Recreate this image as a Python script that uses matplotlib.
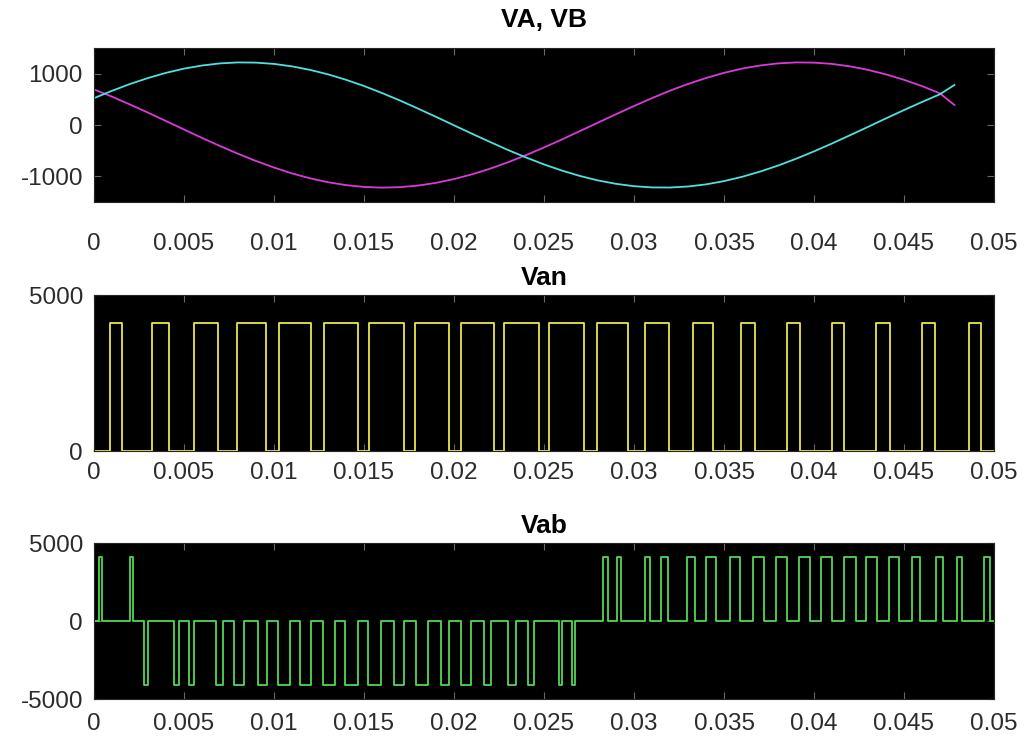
import numpy as np
import matplotlib
matplotlib.use("Agg")
import matplotlib.pyplot as plt

plt.rcParams["font.family"] = ["Liberation Sans", "DejaVu Sans"]

# ---- phase voltages VA, VB (time in ms, volts) ----
t_ms = [0, 1, 2, 3, 4, 5, 6, 7, 8, 9, 10, 11, 12, 13, 14, 15, 16, 17, 18, 19,
        20, 21, 22, 23, 24, 25, 26, 27, 28, 29, 30, 31, 32, 33, 34, 35, 36, 37,
        38, 39, 40, 41, 42, 43, 44, 45, 46, 47, 47.8]
va = [693, 552, 399, 241, 77, -87, -252, -409, -560, -701, -829, -943, -1038,
      -1115, -1171, -1207, -1220, -1211, -1180, -1127, -1053, -961, -852, -726,
      -588, -437, -281, -117, 46, 210, 370, 523, 669, 799, 915, 1016, 1098,
      1159, 1200, 1219, 1215, 1190, 1142, 1074, 986, 880, 758, 615, 390]
vb = [523, 666, 799, 915, 1016, 1098, 1159, 1200, 1219, 1215, 1190, 1142, 1074,
      987, 881, 760, 623, 477, 320, 159, -6, -170, -330, -487, -632, -768, -888,
      -993, -1080, -1146, -1192, -1216, -1218, -1198, -1157, -1093, -1010, -908,
      -791, -658, -514, -360, -199, -37, 129, 291, 448, 600, 780]

# ---- leg voltage Van: pulse edges (ms) and pulse level (V) ----
van_rise = [0.88, 3.24, 5.55, 7.93, 10.28, 12.78, 15.28, 17.83, 20.38, 22.79,
            25.29, 27.95, 30.62, 33.27, 35.96, 38.52, 41.00, 43.46, 45.98, 48.62]
van_fall = [1.57, 4.16, 6.89, 9.54, 12.08, 14.67, 17.23, 19.70, 22.24, 24.74,
            27.24, 29.66, 31.97, 34.38, 36.70, 39.20, 41.67, 44.21, 46.71, 49.27]
van_level = 4100

# ---- line voltage Vab: pulse edges (ms), polarity, level (V) ----
vab_start = [0.25, 1.99, 2.79, 4.46, 5.29, 6.77, 7.80, 9.11, 10.22, 11.43,
             12.73, 13.93, 15.23, 16.67, 17.88, 19.27, 20.38, 21.68, 23.00,
             24.11, 25.84, 26.54, 28.30, 29.08, 30.62, 31.51, 32.96, 34.01,
             35.31, 36.61, 37.88, 39.16, 40.38, 41.66, 42.91, 44.19, 45.44,
             46.75, 47.92, 49.47]
vab_end = [0.42, 2.16, 2.99, 4.70, 5.57, 7.15, 8.35, 9.63, 10.87, 12.08,
           13.38, 14.67, 15.94, 17.23, 18.53, 19.73, 20.94, 22.05, 23.44,
           24.42, 26.02, 26.73, 28.54, 29.28, 30.88, 31.88, 33.40, 34.56,
           35.90, 37.21, 38.52, 39.80, 41.02, 42.33, 43.49, 44.72, 45.91,
           47.14, 48.22, 49.78]
vab_sign = [1, 1] + [-1] * 20 + [1] * 18
vab_level = 4100

t_end_ms = 50

x_ticks = [0, 0.005, 0.01, 0.015, 0.02, 0.025, 0.03, 0.035, 0.04, 0.045, 0.05]
x_tick_labels = ["0", "0.005", "0.01", "0.015", "0.02", "0.025", "0.03",
                 "0.035", "0.04", "0.045", "0.05"]


def pulse_train(starts, ends, levels, t_stop):
    """Return a square waveform (t in s) made of the given pulses on a 0 baseline."""
    t = [0.0]
    v = [0.0]
    for s, e, lv in zip(starts, ends, levels):
        t += [s, s, e, e]
        v += [0.0, lv, lv, 0.0]
    t.append(t_stop)
    v.append(0.0)
    return np.array(t) / 1000.0, np.array(v)


fig = plt.figure(figsize=(10.25, 7.42), dpi=100)
fig.patch.set_facecolor("white")

left, width = 94 / 1025, 900 / 1025
ax1 = fig.add_axes([left, 1 - 202 / 742, width, 154 / 742])
ax2 = fig.add_axes([left, 1 - 451 / 742, width, 156 / 742])
ax3 = fig.add_axes([left, 1 - 699 / 742, width, 156 / 742])

text_col = "#2b2b2b"
tick_fs = 17.5
title_fs = 19

for ax in (ax1, ax2, ax3):
    ax.set_facecolor("black")
    ax.set_xlim(0, 0.05)
    ax.set_xticks(x_ticks)
    ax.set_xticklabels(x_tick_labels)
    ax.tick_params(direction="in", length=5, width=0.8, color="#6a6a6a",
                   labelsize=tick_fs, labelcolor=text_col, top=True, right=True)
    ax.tick_params(axis="y", pad=8)
    for sp in ax.spines.values():
        sp.set_color("#262626")
        sp.set_linewidth(0.8)

# VA, VB
ts = np.array(t_ms) / 1000.0
ax1.plot(ts, va, color="#d93ad9", lw=1.3)
ax1.plot(ts, vb, color="#4fe0e0", lw=1.3)
ax1.set_ylim(-1500, 1500)
ax1.set_yticks([-1000, 0, 1000])
ax1.set_yticklabels(["-1000", "0", "1000"])
ax1.tick_params(axis="x", pad=22)
ax1.set_title("VA, VB", fontsize=title_fs, fontweight="bold", color="black", pad=15)

# Van
tv, vv = pulse_train(van_rise, van_fall, [van_level] * len(van_rise), t_end_ms)
ax2.plot(tv, vv, color="#e8e84a", lw=1.3, clip_on=False)
ax2.set_ylim(0, 5000)
ax2.set_yticks([0, 5000])
ax2.set_yticklabels(["0", "5000"])
ax2.tick_params(axis="x", pad=8)
ax2.set_title("Van", fontsize=title_fs, fontweight="bold", color="black", pad=7)

# Vab
tl, vl = pulse_train(vab_start, vab_end, [s * vab_level for s in vab_sign], t_end_ms)
ax3.plot(tl, vl, color="#52d852", lw=1.3)
ax3.set_ylim(-5000, 5000)
ax3.set_yticks([-5000, 0, 5000])
ax3.set_yticklabels(["-5000", "0", "5000"])
ax3.tick_params(axis="x", pad=10)
ax3.set_title("Vab", fontsize=title_fs, fontweight="bold", color="black", pad=7)

fig.savefig("out.png", dpi=100, facecolor="white")
